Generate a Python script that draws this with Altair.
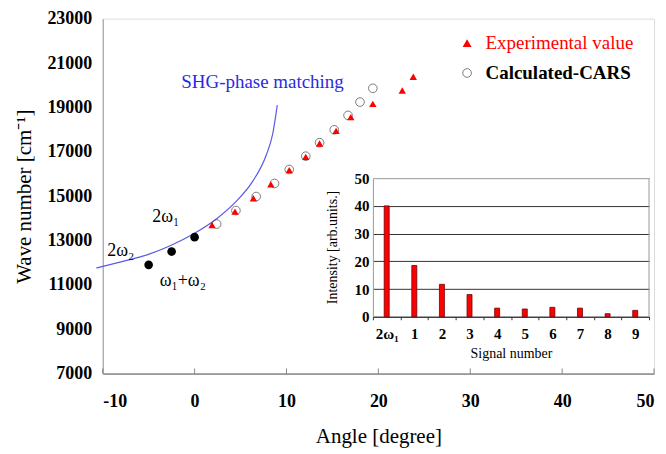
import altair as alt
import pandas as pd

# ---------------- data ----------------
ANGLE_EXP = [1.9, 4.4, 6.4, 8.3, 10.3, 12.1, 13.6, 15.4, 17.0, 19.4, 22.6, 23.8]
WAVE_EXP = [13700, 14300, 14900, 15530, 16170, 16770, 17370, 17940, 18560, 19160, 19760, 20380]

ANGLE_CALC = [2.4, 4.5, 6.7, 8.7, 10.3, 12.1, 13.6, 15.2, 16.7, 18.0, 19.4]
WAVE_CALC = [13740, 14350, 14980, 15570, 16200, 16800, 17410, 17990, 18640, 19240, 19860]

ANGLE_MIX = [-5.0, -2.5, 0.0]
WAVE_MIX = [11900, 12500, 13150]

ANGLE_SHG = [-10.7, -7.8, -5.1, -2.6, -0.1, 2.4, 4.5, 6.3, 7.8, 8.5, 9.0]
WAVE_SHG = [11760, 12060, 12360, 12770, 13300, 13980, 14750, 15650, 16850, 17800, 19100]

SIGNALS = ["2ω₁", "1", "2", "3", "4", "5", "6", "7", "8", "9"]
INTENSITY = [40, 18.5, 11.7, 8.0, 3.1, 2.8, 3.4, 3.1, 1.1, 2.3]

X_TICKS = [-10, 0, 10, 20, 30, 40, 50]
Y_TICKS = [7000, 9000, 11000, 13000, 15000, 17000, 19000, 21000, 23000]
I_TICKS = [0, 10, 20, 30, 40, 50]

ANNOT_TEXT = ["2ω₁", "2ω₂", "ω₁+ω₂"]
ANNOT_X = [-4.6, -9.5, -3.8]
ANNOT_Y = [14040, 12510, 11170]

SHG_LABEL = "SHG-phase matching"
SHG_LABEL_X = -1.45
SHG_LABEL_Y = 20130

FONT = "Liberation Serif"
W, H = 553, 356
INSET_XR = [271, 548]
INSET_YR = [299, 160]
PLAIN = "'' + datum.value"

# ---------------- main plot ----------------
xs = alt.Scale(domain=[-10, 50], nice=False, zero=False)
ys = alt.Scale(domain=[7000, 23000], nice=False, zero=False)

x_enc = alt.X("angle:Q", scale=xs, axis=alt.Axis(
    values=X_TICKS, labelExpr=PLAIN, ticks=False, grid=False, domainColor="#555",
    labelFont=FONT, labelFontSize=18, labelFontWeight="bold", labelColor="black",
    labelPadding=19, title="Angle [degree]", titleFont=FONT, titleFontSize=21,
    titleFontWeight="normal", titleColor="black", titleY=63, titleBaseline="middle"))
y_enc = alt.Y("wave:Q", scale=ys, axis=alt.Axis(
    values=Y_TICKS, labelExpr=PLAIN, ticks=False, grid=False, domainColor="#999",
    labelFont=FONT, labelFontSize=18, labelFontWeight="bold", labelColor="black",
    labelPadding=11, title="Wave number [cm⁻¹]", titleFont=FONT, titleFontSize=21,
    titleFontWeight="normal", titleColor="black", titleX=-78, titleY=178,
    titleAlign="center", titleBaseline="middle"))

shg_df = pd.DataFrame({"angle": ANGLE_SHG, "wave": WAVE_SHG})
exp_df = pd.DataFrame({"angle": ANGLE_EXP, "wave": WAVE_EXP, "exp_series": "Experimental value"})
calc_df = pd.DataFrame({"angle": ANGLE_CALC, "wave": WAVE_CALC, "calc_series": "Calculated-CARS"})
mix_df = pd.DataFrame({"angle": ANGLE_MIX, "wave": WAVE_MIX})
annot_df = pd.DataFrame({"angle": ANNOT_X, "wave": ANNOT_Y, "label": ANNOT_TEXT})
shg_lab_df = pd.DataFrame({"angle": [SHG_LABEL_X], "wave": [SHG_LABEL_Y], "label": [SHG_LABEL]})
tick_df = pd.DataFrame({"angle": X_TICKS})

curve = alt.Chart(shg_df).mark_line(color="#5a5ae8", strokeWidth=1.2, interpolate="monotone").encode(
    x=x_enc, y=y_enc, order=alt.Order("angle:Q"))

calc = alt.Chart(calc_df).mark_point(filled=False, size=75, strokeWidth=1, color="#444").encode(
    x=x_enc, y=y_enc,
    shape=alt.Shape("calc_series:N", title=None,
                    scale=alt.Scale(domain=["Calculated-CARS"], range=["circle"]),
                    legend=alt.Legend(orient="none", legendX=356, legendY=45, padding=0,
                                      symbolType="circle", symbolSize=75,
                                      symbolFillColor="transparent", symbolStrokeColor="#444",
                                      symbolStrokeWidth=1, labelFont=FONT, labelFontSize=19,
                                      labelFontWeight="bold", labelColor="black", labelOffset=9)))

exp = alt.Chart(exp_df).mark_point(filled=True, shape="triangle-up", size=55, opacity=1).encode(
    x=x_enc, y=y_enc,
    color=alt.Color("exp_series:N", title=None,
                    scale=alt.Scale(domain=["Experimental value"], range=["#ff0000"]),
                    legend=alt.Legend(orient="none", legendX=356, legendY=15, padding=0,
                                      symbolType="triangle-up", symbolSize=80,
                                      symbolOpacity=1,
                                      labelFont=FONT, labelFontSize=19,
                                      labelColor="#ff0000", labelOffset=9)))

mix = alt.Chart(mix_df).mark_point(filled=True, shape="circle", size=75, color="black", opacity=1).encode(
    x=x_enc, y=y_enc)

annot = alt.Chart(annot_df).mark_text(font=FONT, fontSize=18, align="left", baseline="middle",
                                      color="black").encode(x=x_enc, y=y_enc, text="label:N")

shg_text = alt.Chart(shg_lab_df).mark_text(font=FONT, fontSize=19, align="left", baseline="middle",
                                           color="#2b2be0").encode(x=x_enc, y=y_enc, text="label:N")

ticks = alt.Chart(tick_df).mark_tick(orient="vertical", size=5, thickness=1, color="#555",
                                     yOffset=-2.5).encode(x=x_enc, y=alt.YDatum(7000, scale=ys))

main = alt.layer(curve, ticks, calc, exp, mix, annot, shg_text)

# ---------------- inset bar chart ----------------
bar_df = pd.DataFrame({"signal": SIGNALS, "intensity": INTENSITY})
edge_df = pd.DataFrame({"signal": [SIGNALS[-1]], "lo": [I_TICKS[0]], "hi": [I_TICKS[-1]]})

ixs = alt.Scale(domain=SIGNALS, range=INSET_XR, paddingInner=0, paddingOuter=0)
iys = alt.Scale(domain=[0, 50], range=INSET_YR, nice=False, zero=True)

ix_enc = alt.X("signal:N", scale=ixs, sort=SIGNALS, axis=alt.Axis(
    orient="bottom", offset=-57, tickBand="extent", tickSize=3, tickColor="#333",
    domainColor="#333", labelAngle=0, labelFont=FONT, labelFontSize=15,
    labelFontWeight="bold", labelColor="black", labelPadding=7, grid=False,
    title="Signal number", titleFont=FONT, titleFontSize=14, titleFontWeight="normal",
    titleColor="black", titleY=37, titleBaseline="middle"))
iy_enc = alt.Y("intensity:Q", scale=iys, axis=alt.Axis(
    orient="left", offset=-271, values=I_TICKS, ticks=False, domainColor="#999",
    grid=True, gridColor={"condition": {"test": "datum.value === 50", "value": "#999"}, "value": "#333"},
    gridWidth=1, labelFont=FONT, labelFontSize=15, labelFontWeight="bold", labelColor="black",
    labelPadding=4, title="Intensity [arb.units.]", titleFont=FONT, titleFontSize=14,
    titleFontWeight="normal", titleColor="black", titleX=-40, titleY=229,
    titleAlign="center", titleBaseline="middle"))

bars = alt.Chart(bar_df).mark_bar(size=5, color="#ff0000", stroke="#700000", strokeWidth=0.8).encode(
    x=ix_enc, y=iy_enc)

edge = alt.Chart(edge_df).mark_rule(color="#999", strokeWidth=1).encode(
    x=alt.X("signal:N", scale=ixs, sort=SIGNALS, bandPosition=1),
    y=alt.Y("lo:Q", scale=iys), y2="hi:Q")

inset = alt.layer(bars, edge)

chart = alt.layer(main, inset).resolve_scale(x="independent", y="independent").properties(
    width=W, height=H,
    autosize=alt.AutoSizeParams(type="none"),
    padding={"left": 95, "top": 10, "right": 4, "bottom": 80},
).configure_view(stroke="#aaa", strokeWidth=1).configure(background="white")

chart.save("out.html", embed_options={"renderer": "svg", "actions": False})
